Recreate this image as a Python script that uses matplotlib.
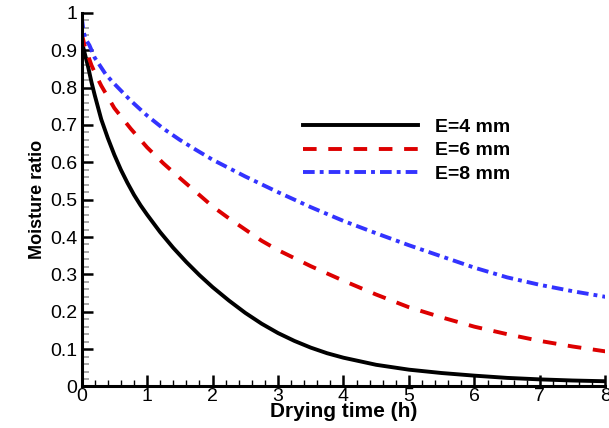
import matplotlib
matplotlib.use("Agg")
import matplotlib.pyplot as plt
from matplotlib.ticker import MultipleLocator

plt.rcParams["font.family"] = ["Liberation Sans", "DejaVu Sans"]

# Drying time (h) and moisture ratio
t_e4 = [0, 0.05, 0.1, 0.15, 0.2, 0.3, 0.4, 0.5, 0.6, 0.7, 0.8, 0.9, 1.0, 1.2,
        1.4, 1.6, 1.8, 2.0, 2.25, 2.5, 2.75, 3.0, 3.25, 3.5, 3.75, 4.0, 4.5,
        5.0, 5.5, 6.0, 6.5, 7.0, 7.5, 8.0]
mr_e4 = [0.925, 0.89, 0.855, 0.815, 0.78, 0.715, 0.665, 0.62, 0.58, 0.545,
         0.513, 0.485, 0.46, 0.413, 0.371, 0.333, 0.298, 0.266, 0.23, 0.197,
         0.168, 0.143, 0.122, 0.104, 0.089, 0.077, 0.058, 0.045, 0.036, 0.029,
         0.023, 0.019, 0.016, 0.014]

t_e6 = [0, 0.05, 0.1, 0.15, 0.22, 0.3, 0.4, 0.5, 0.75, 1.0, 1.25, 1.5, 1.75,
        2.0, 2.25, 2.5, 2.75, 3.0, 3.5, 4.0, 4.5, 5.0, 5.5, 6.0, 6.5, 7.0,
        7.5, 8.0]
mr_e6 = [0.945, 0.91, 0.885, 0.86, 0.833, 0.805, 0.775, 0.745, 0.69, 0.64,
         0.597, 0.558, 0.52, 0.482, 0.45, 0.42, 0.39, 0.365, 0.322, 0.283,
         0.246, 0.212, 0.185, 0.16, 0.14, 0.122, 0.107, 0.094]

t_e8 = [0, 0.03, 0.06, 0.12, 0.2, 0.37, 0.5, 0.75, 1.0, 1.25, 1.5, 1.75, 2.0,
        2.5, 3.0, 3.5, 4.0, 4.5, 5.0, 5.5, 6.0, 6.5, 7.0, 7.5, 8.0]
mr_e8 = [0.99, 0.95, 0.93, 0.913, 0.88, 0.835, 0.81, 0.765, 0.725, 0.69, 0.66,
         0.633, 0.607, 0.562, 0.52, 0.48, 0.443, 0.41, 0.378, 0.348, 0.318,
         0.292, 0.272, 0.255, 0.24]

labels = ["E=4 mm", "E=6 mm", "E=8 mm"]

fig = plt.figure(figsize=(6.09, 4.28), dpi=100)
ax = fig.add_axes([0.134, 0.097, 0.860, 0.873])

lw = 2.8
ax.plot(t_e4, mr_e4, color="black", lw=lw, label=labels[0])
ax.plot(t_e6, mr_e6, color="#dd0000", lw=lw, dashes=(3.5, 3), label=labels[1])
ax.plot(t_e8, mr_e8, color="#3333ff", lw=lw, dashes=(3, 1.3, 1, 1.3), label=labels[2])

ax.set_xlim(0, 8)
ax.set_ylim(0, 1)
ax.xaxis.set_major_locator(MultipleLocator(1))
ax.xaxis.set_minor_locator(MultipleLocator(0.2))
ax.yaxis.set_major_locator(MultipleLocator(0.1))
ax.yaxis.set_minor_locator(MultipleLocator(0.02))
ax.yaxis.set_major_formatter(plt.FuncFormatter(lambda v, p: f"{v:g}"))

for side in ["top", "right"]:
    ax.spines[side].set_visible(False)
for side in ["left", "bottom"]:
    ax.spines[side].set_linewidth(2.2)

ax.tick_params(which="major", direction="in", length=8, width=1.8,
               labelsize=14, pad=3)
ax.tick_params(axis="x", which="minor", direction="in", length=4.5, width=1,
               color="black")
ax.tick_params(axis="y", which="minor", direction="in", length=5, width=1.2,
               color="#999999")
ax.tick_params(axis="x", which="major", pad=1)

ax.set_xlabel("Drying time (h)", fontsize=15, fontweight="bold", labelpad=-2)
ax.set_ylabel("Moisture ratio", fontsize=13, fontweight="bold", labelpad=3)

ax.legend(loc="upper left", bbox_to_anchor=(0.423, 0.7175), frameon=False,
          prop={"size": 14, "weight": "bold"}, handlelength=5.9,
          handletextpad=0.9, labelspacing=0.3, borderpad=0, borderaxespad=0)

fig.savefig("out.png", dpi=100)
